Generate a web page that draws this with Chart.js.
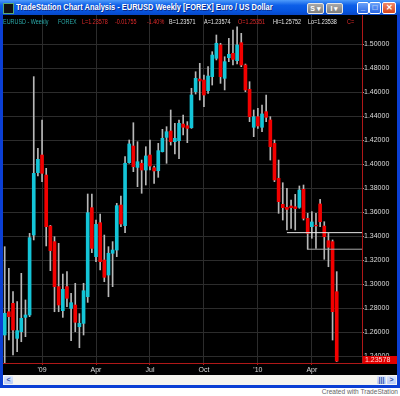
<!DOCTYPE html>
<html>
<head>
<meta charset="utf-8">
<script src="https://cdn.jsdelivr.net/npm/chart.js@4.4.1/dist/chart.umd.min.js"></script>
<style>
  body { margin: 0; width: 400px; height: 396px; background: #fff; position: relative; overflow: hidden; font-family: "Liberation Sans", Arial, sans-serif; }
  .abs { position: absolute; }
  #frame { left: 0; top: 0; width: 400px; height: 388px; background: #0b3fd4; }
  #titlebar { left: 0; top: 0; width: 400px; height: 15px; background: linear-gradient(#4f9bfa, #0d5fe8 35%, #0654de 75%, #0847c6); }
  #icon { left: 3px; top: 3px; width: 9px; height: 9px; background: #111; border: 1px solid #5a7; }
  #title { left: 16px; top: 2px; color: #fff; font-weight: bold; font-size: 9px; white-space: nowrap; transform-origin: 0 0; text-shadow: 1px 1px 0 #0a2a8a; }
  .tbtn { top: 3px; height: 9px; width: 15px; background: linear-gradient(#a8a8a8, #7d7d7d); border: 1px solid #e6e6e6; border-radius: 2px; color: #fff; font-size: 7px; font-weight: bold; line-height: 9px; text-align: center; }
  .wbtn { top: 2px; width: 10px; height: 10px; border: 1px solid #fff; border-radius: 2px; background: linear-gradient(#6aa2fa, #2a66e2); color: #fff; font-size: 8px; font-weight: bold; line-height: 10px; text-align: center; }
  #plot { left: 3px; top: 15px; width: 394px; height: 360px; background: #000; }
  #info { left: 0; top: 18px; width: 400px; height: 9px; font-size: 6.8px; white-space: nowrap; }
  #info span { position: absolute; top: 0; transform: scaleX(0.8); transform-origin: 0 0; }
  .teal { color: #2aa9a9; }
  .red { color: #e02a2a; }
  .wht { color: #e6e6e6; }
  #scroll { left: 3px; top: 375px; width: 394px; height: 10px; background: #f5f4ef; }
  .sbtn { top: 376px; width: 9px; height: 8px; background: linear-gradient(#dbe6fd, #b7cbf7); border-radius: 1px; color: #2a4aa8; font-size: 7px; font-weight: bold; line-height: 8px; text-align: center; }
  #credit { right: 2px; top: 388px; font-size: 6.6px; color: #666; }
</style>
</head>
<body>
<div id="frame" class="abs"></div>
<div id="titlebar" class="abs"></div>
<div id="icon" class="abs"></div>
<div id="title" class="abs">TradeStation Chart Analysis - EURUSD Weekly [FOREX] Euro / US Dollar</div>
<div class="abs tbtn" style="left:307px">S ▾</div>
<div class="abs tbtn" style="left:326px">I ▾</div>
<div class="abs wbtn" style="left:357px">_</div>
<div class="abs wbtn" style="left:369px">□</div>
<div class="abs wbtn" style="left:382px;width:12px;background:linear-gradient(#f0886a,#d4441c)">✕</div>
<div id="plot" class="abs"><canvas id="chart" width="394" height="360"></canvas></div>
<div id="info" class="abs">
  <span class="teal" style="left:3px">EURUSD - Weekly</span>
  <span class="teal" style="left:58px">FOREX</span>
  <span class="red" style="left:82px">L=1.23578</span>
  <span class="red" style="left:115px">-0.01755</span>
  <span class="red" style="left:147px">-1.40%</span>
  <span class="wht" style="left:169px">B=1.23571</span>
  <span class="wht" style="left:204px">A=1.23574</span>
  <span class="red" style="left:238px">O=1.25351</span>
  <span class="wht" style="left:273px">Hi=1.25752</span>
  <span class="wht" style="left:308px">Lo=1.23538</span>
  <span class="red" style="left:347px">C=</span>
</div>
<div id="scroll" class="abs"></div>
<div class="abs sbtn" style="left:4px">&lt;</div>
<div class="abs sbtn" style="left:377px">|||</div>
<div class="abs sbtn" style="left:387px">&gt;</div>
<div id="credit" class="abs">Created with TradeStation</div>
<script>
// weekly EURUSD bars, oldest first (one per week)
var open = [1.2575, 1.2769, 1.2839, 1.2547, 1.2603, 1.2722, 1.2742, 1.3408, 1.3928, 1.4075,
  1.3908, 1.3483, 1.3353, 1.2978, 1.2778, 1.2978, 1.2797, 1.2825, 1.2644, 1.2672,
  1.2894, 1.3636, 1.3228, 1.3511, 1.3200, 1.3075, 1.3256, 1.3283, 1.3658, 1.3486,
  1.4011, 1.4150, 1.3972, 1.4006, 1.3950, 1.4075, 1.3969, 1.3944, 1.4103, 1.4222,
  1.4275, 1.4186, 1.4194, 1.4333, 1.4319, 1.4303, 1.4603, 1.4708, 1.4700, 1.4611,
  1.4728, 1.4881, 1.4992, 1.4714, 1.4886, 1.4922, 1.4861, 1.5011, 1.4825, 1.4622,
  1.4306, 1.4394, 1.4306, 1.4436, 1.4367, 1.4172, 1.3881, 1.3664, 1.3639, 1.3650,
  1.3644, 1.3639, 1.3789, 1.3547, 1.3478, 1.3490, 1.3667, 1.3483, 1.3361, 1.3353,
  1.2936];
var high = [1.3311, 1.3131, 1.2936, 1.2853, 1.3089, 1.2867, 1.3422, 1.4728, 1.4131, 1.4367,
  1.3964, 1.3489, 1.3394, 1.3339, 1.3083, 1.3103, 1.2922, 1.3006, 1.2753, 1.3006,
  1.3750, 1.3750, 1.3533, 1.3583, 1.3408, 1.3311, 1.3353, 1.3672, 1.3733, 1.4061,
  1.4200, 1.4344, 1.4186, 1.4033, 1.4144, 1.4200, 1.3983, 1.4172, 1.4289, 1.4311,
  1.4450, 1.4339, 1.4367, 1.4408, 1.4353, 1.4631, 1.4769, 1.4839, 1.4742, 1.4811,
  1.4936, 1.5075, 1.5006, 1.4894, 1.5047, 1.5117, 1.5144, 1.5089, 1.4833, 1.4686,
  1.4450, 1.4464, 1.4492, 1.4575, 1.4394, 1.4200, 1.4033, 1.3844, 1.3797, 1.3700,
  1.3747, 1.3817, 1.3825, 1.3589, 1.3603, 1.3589, 1.3706, 1.3519, 1.3422, 1.3367,
  1.3103];
var low = [1.2339, 1.2533, 1.2408, 1.2436, 1.2519, 1.2561, 1.2728, 1.3367, 1.3900, 1.3853,
  1.3317, 1.3111, 1.2769, 1.2769, 1.2722, 1.2811, 1.2528, 1.2603, 1.2469, 1.2575,
  1.2847, 1.3261, 1.3186, 1.3117, 1.3019, 1.2894, 1.2978, 1.3228, 1.3478, 1.3428,
  1.4006, 1.3936, 1.3811, 1.3756, 1.3825, 1.3950, 1.3839, 1.3889, 1.4100, 1.4006,
  1.4158, 1.4083, 1.4044, 1.4242, 1.4178, 1.4297, 1.4583, 1.4533, 1.4478, 1.4589,
  1.4658, 1.4867, 1.4672, 1.4617, 1.4853, 1.4825, 1.4833, 1.4811, 1.4603, 1.4353,
  1.4228, 1.4297, 1.4269, 1.4353, 1.4033, 1.3853, 1.3589, 1.3533, 1.3450, 1.3464,
  1.3450, 1.3631, 1.3533, 1.3290, 1.3381, 1.3297, 1.3478, 1.3206, 1.3144, 1.2533,
  1.2354];
var close = [1.2756, 1.2728, 1.2617, 1.2611, 1.2714, 1.2742, 1.3386, 1.3922, 1.4039, 1.3922,
  1.3478, 1.3278, 1.2978, 1.2825, 1.2956, 1.2881, 1.2844, 1.2681, 1.2672, 1.2944,
  1.3594, 1.3297, 1.3497, 1.3186, 1.3056, 1.3256, 1.3283, 1.3653, 1.3500, 1.4006,
  1.4167, 1.3978, 1.4019, 1.3950, 1.4067, 1.3983, 1.3942, 1.4111, 1.4214, 1.4269,
  1.4186, 1.4214, 1.4339, 1.4306, 1.4297, 1.4575, 1.4714, 1.4692, 1.4575, 1.4733,
  1.4908, 1.5006, 1.4728, 1.4853, 1.4914, 1.4872, 1.4992, 1.4825, 1.4617, 1.4394,
  1.4394, 1.4317, 1.4417, 1.4389, 1.4144, 1.3867, 1.3686, 1.3636, 1.3622, 1.3636,
  1.3628, 1.3783, 1.3547, 1.3422, 1.3517, 1.3484, 1.3519, 1.3394, 1.3306, 1.2769,
  1.23578];

// x axis: bar index of first week of each quarter
var quarterPos = [9, 22, 35, 48, 61, 74];
var quarterText = ["'09", "Apr", "Jul", "Oct", "'10", "Apr"];
var priceTicks = [1.24, 1.26, 1.28, 1.30, 1.32, 1.34, 1.36, 1.38, 1.40, 1.42, 1.44, 1.46, 1.48, 1.50];

// drawn support lines: level and bar where they start
var lineLevel = [1.3428, 1.3290];
var lineStart = [68, 72.9];

var upColor = '#14c5d8';
var downColor = '#f20000';
var xMin = -0.41, xMax = 86.09;

var wickData = low.map(function (l, i) { return { x: i, y: [l, high[i]] }; });
var bodyData = open.map(function (o, i) {
  return { x: i, y: [Math.min(o, close[i]), Math.max(o, close[i])] };
});
var bodyColors = open.map(function (o, i) { return close[i] >= o ? upColor : downColor; });

var priceTag = {
  id: 'priceTag',
  afterDraw: function (chart) {
    var ctx = chart.ctx, a = chart.chartArea;
    var last = close[close.length - 1];
    var y = Math.round(chart.scales.y.getPixelForValue(last));
    ctx.save();
    ctx.fillStyle = '#e10000';
    ctx.fillRect(a.right + 1, y - 5, chart.width - a.right - 1, 8);
    ctx.fillStyle = '#ffd6d6';
    ctx.font = '7px "Liberation Sans"';
    ctx.textBaseline = 'middle';
    ctx.fillText(last.toFixed(5), a.right + 3, y - 1);
    ctx.restore();
  }
};

var tickFont = { family: 'Liberation Sans', size: 7 };

new Chart(document.getElementById('chart'), {
  type: 'bar',
  data: {
    datasets: [
      {
        type: 'line',
        data: [{ x: lineStart[0], y: lineLevel[0] }, { x: xMax, y: lineLevel[0] }],
        borderColor: '#e8e8e8', borderWidth: 1, pointRadius: 0, order: 0
      },
      {
        type: 'line',
        data: [{ x: lineStart[1], y: lineLevel[1] }, { x: xMax, y: lineLevel[1] }],
        borderColor: '#a8a8a8', borderWidth: 1, pointRadius: 0, order: 0
      },
      { data: bodyData, backgroundColor: bodyColors, barThickness: 3, grouped: false, order: 1 },
      { data: wickData, backgroundColor: '#b8b8b8', barThickness: 1, grouped: false, order: 2 }
    ]
  },
  options: {
    responsive: false,
    animation: false,
    devicePixelRatio: 1,
    layout: { padding: 0 },
    plugins: { legend: { display: false }, tooltip: { enabled: false } },
    scales: {
      x: {
        type: 'linear', min: xMin, max: xMax, offset: false,
        grid: { color: '#2c2c2c', offset: false, tickLength: 2, tickColor: '#b01818' },
        border: { color: '#b01818' },
        ticks: {
          color: '#dcdcdc', font: tickFont, padding: 1, maxRotation: 0,
          callback: function (v) { return quarterText[quarterPos.indexOf(v)]; }
        },
        afterBuildTicks: function (s) { s.ticks = quarterPos.map(function (v) { return { value: v }; }); },
        afterFit: function (s) { s.height = 12; s.paddingLeft = 0; s.paddingRight = 0; }
      },
      y: {
        position: 'right', min: 1.23417, max: 1.52417,
        grid: { color: '#2c2c2c', tickLength: 2, tickColor: '#9a9a9a' },
        border: { color: '#b01818' },
        ticks: {
          color: '#dcdcdc', font: tickFont, padding: 0,
          callback: function (v) { return v.toFixed(5); }
        },
        afterBuildTicks: function (s) { s.ticks = priceTicks.map(function (v) { return { value: v }; }); },
        afterFit: function (s) { s.width = 35; s.paddingTop = 0; s.paddingBottom = 0; }
      }
    }
  },
  plugins: [priceTag]
});

// squeeze the title to the width it has in the screenshot
var t = document.getElementById('title');
t.style.transform = 'scaleX(' + (257 / t.scrollWidth) + ')';
</script>
</body>
</html>
